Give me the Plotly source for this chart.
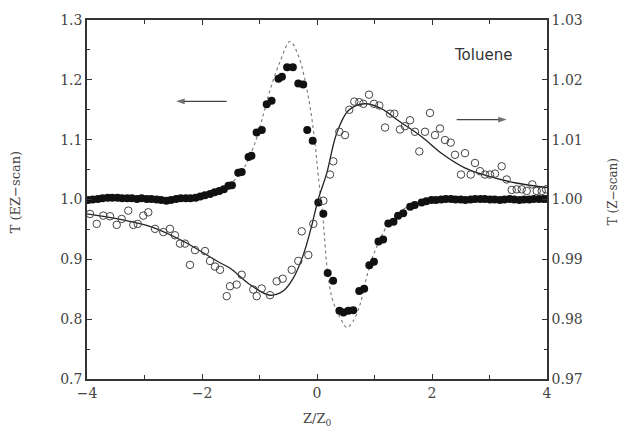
import plotly.graph_objects as go

# ---- EZ-scan (filled circles, left axis) ----
ez_z = [-3.98, -3.90, -3.81, -3.73, -3.64, -3.56, -3.47, -3.39, -3.30, -3.22, -3.13, -3.05,
        -2.96, -2.88, -2.79, -2.71, -2.62, -2.54, -2.45, -2.37, -2.28, -2.20, -2.11, -2.03,
        -1.95, -1.86, -1.78, -1.70, -1.62, -1.54, -1.48, -1.37, -1.31, -1.19, -1.14, -1.05,
        -0.96, -0.875, -0.79, -0.67, -0.61, -0.52, -0.42, -0.325, -0.24, -0.17, -0.075,
        0.023, 0.11, 0.186, 0.28, 0.39, 0.46, 0.545, 0.63, 0.735, 0.82, 0.91, 0.99, 1.07,
        1.15, 1.24, 1.33, 1.41, 1.50, 1.62, 1.70, 1.82, 1.90, 1.99, 2.07, 2.16, 2.24, 2.33,
        2.41, 2.50, 2.58, 2.67, 2.75, 2.84, 2.92, 3.01, 3.09, 3.18, 3.26, 3.35, 3.43, 3.52,
        3.60, 3.69, 3.77, 3.86, 3.94, 4.0]
ez_t = [0.999, 1.000, 1.001, 1.002, 1.003, 1.003, 1.003, 1.002, 1.002, 1.002, 1.001, 1.002,
        1.001, 1.001, 1.000, 0.999, 0.998, 0.999, 1.001, 1.002, 1.002, 1.002, 1.003, 1.005,
        1.007, 1.009, 1.012, 1.014, 1.017, 1.023, 1.024, 1.0445, 1.046, 1.071, 1.073, 1.112,
        1.116, 1.159, 1.165, 1.202, 1.205, 1.221, 1.221, 1.194, 1.192, 1.116, 1.098,
        0.995, 0.976, 0.877, 0.864, 0.814, 0.811, 0.814, 0.815, 0.847, 0.851, 0.890, 0.896, 0.930,
        0.933, 0.960, 0.963, 0.973, 0.977, 0.988, 0.991, 0.995, 0.997, 0.999, 0.999, 1.000, 1.001, 1.001,
        1.000, 1.000, 0.999, 1.000, 1.001, 1.001, 1.001, 1.000, 1.000, 0.999, 1.000, 1.001, 1.000, 0.999,
        1.000, 1.000, 1.001, 1.001, 1.001, 1.001]

# ---- EZ-scan fit (dotted curve, left axis) ----
ezfit_z = [-4.0, -3.0, -2.2, -1.8, -1.6, -1.43, -1.25, -1.08, -0.93, -0.82, -0.64, -0.47,
           -0.33, -0.15, -0.035, 0.023, 0.11, 0.17, 0.26, 0.40, 0.52, 0.63, 0.75, 0.86,
           0.98, 1.24, 1.44, 1.73, 2.2, 3.0, 4.0]
ezfit_t = [1.000, 1.002, 1.005, 1.012, 1.020, 1.033, 1.056, 1.094, 1.143, 1.182, 1.231, 1.264,
           1.242, 1.171, 1.094, 1.039, 0.962, 0.891, 0.836, 0.803, 0.786, 0.797, 0.825, 0.869,
           0.907, 0.959, 0.979, 0.995, 0.999, 1.000, 1.000]

# ---- Z-scan (open circles, right axis) ----
z_z = [-3.948, -3.831, -3.717, -3.600, -3.483, -3.397, -3.282, -3.195, -3.118, -3.021, -2.934,
       -2.817, -2.673, -2.557, -2.470, -2.383, -2.296, -2.209, -2.122, -1.948, -1.861, -1.774,
       -1.687, -1.570, -1.513, -1.397, -1.310, -1.108, -1.049, -0.962, -0.817, -0.701, -0.597,
       -0.440, -0.325, -0.266, -0.151, -0.064, 0.110, 0.226, 0.283, 0.388, 0.487, 0.562, 0.649,
       0.736, 0.805, 0.904, 0.991, 1.083, 1.183, 1.270, 1.344, 1.443, 1.530, 1.617, 1.704,
       1.779, 1.878, 1.965, 2.052, 2.139, 2.226, 2.325, 2.400, 2.504, 2.574, 2.673, 2.748,
       2.835, 2.922, 3.009, 3.096, 3.212, 3.299, 3.386, 3.473, 3.560, 3.647, 3.744, 3.821,
       3.908, 3.983]
z_t = [0.99758, 0.99593, 0.99731, 0.99720, 0.99576, 0.99675, 0.99814, 0.99576, 0.99593, 0.99731,
       0.99786, 0.99510, 0.99456, 0.99510, 0.99402, 0.99263, 0.99263, 0.98907, 0.99154, 0.99138,
       0.98973, 0.98879, 0.98825, 0.98385, 0.98550, 0.98578, 0.98742, 0.98495, 0.98385, 0.98512,
       0.98401, 0.98632, 0.98676, 0.98825, 0.98973, 0.99468, 0.99072, 0.99593, 0.99979, 1.00417,
       1.00638, 1.01132, 1.01076, 1.01500, 1.01637, 1.01627, 1.01599, 1.01752, 1.01599, 1.01571,
       1.01203, 1.01434, 1.01434, 1.01170, 1.01225, 1.01324, 1.01132, 1.00803, 1.01132, 1.01446,
       1.01076, 1.01187, 1.00994, 1.00951, 1.00747, 1.00417, 1.00775, 1.00417, 1.00610, 1.00473,
       1.00417, 1.00417, 1.00433, 1.00555, 1.00335, 1.00160, 1.00170, 1.00170, 1.00143, 1.00252,
       1.00143, 1.00143, 1.00170]

# ---- Z-scan fit (solid line, right axis) ----
zfit_z = [-4.0, -3.46, -2.87, -2.30, -1.72, -1.51, -1.17, -0.82, -0.59, -0.41, -0.24, -0.09,
          0.02, 0.17, 0.34, 0.55, 0.83, 1.12, 1.41, 1.82, 2.17, 2.57, 2.98, 3.44, 4.0]
zfit_t = [0.9976, 0.99675, 0.9954, 0.9929, 0.9896, 0.9885, 0.9858, 0.9840, 0.9847, 0.9869,
          0.9907, 0.9957, 1.0000, 1.0044, 1.0110, 1.0149, 1.0160, 1.0152, 1.0132, 1.0105,
          1.0077, 1.0053, 1.0039, 1.0028, 1.0020]

# ---- direction arrows (tail -> head) ----
arrow_left_z = [-1.57, -2.45]
arrow_left_t = [1.164, 1.164]
arrow_right_z = [2.43, 3.30]
arrow_right_t = [1.1335, 1.1335]

x_ticks = [-4, -2, 0, 2, 4]
left_ticks = [0.7, 0.8, 0.9, 1.0, 1.1, 1.2, 1.3]
right_ticks = [0.97, 0.98, 0.99, 1.00, 1.01, 1.02, 1.03]

INK = "#333333"
TICKFONT = dict(family="DejaVu Serif", size=14, color="#444444")

fig = go.Figure()
fig.add_trace(go.Scatter(x=ezfit_z, y=ezfit_t, mode="lines",
                         line=dict(color="#777777", width=1.1, dash="dot", shape="spline"),
                         yaxis="y", showlegend=False))
fig.add_trace(go.Scatter(x=zfit_z, y=zfit_t, mode="lines", line=dict(color="#222222", width=1.3, shape="spline"),
                         yaxis="y2", showlegend=False))
fig.add_trace(go.Scatter(x=z_z, y=z_t, mode="markers", yaxis="y2", showlegend=False,
                         marker=dict(symbol="circle-open", size=7.5, color="#444444", line=dict(width=1))))
fig.add_trace(go.Scatter(x=ez_z, y=ez_t, mode="markers", yaxis="y", showlegend=False,
                         marker=dict(symbol="circle", size=8, color="#111111")))
for az, at in ((arrow_left_z, arrow_left_t), (arrow_right_z, arrow_right_t)):
    fig.add_trace(go.Scatter(x=az, y=at, mode="lines+markers", yaxis="y", showlegend=False,
                             line=dict(color="#444444", width=1.2),
                             marker=dict(symbol=["circle", "arrow"], size=[0, 9], angleref="previous",
                                         color="#333333", line=dict(width=0))))

axis_common = dict(showgrid=False, zeroline=False, showline=True, linecolor=INK, linewidth=1.5,
                   ticks="inside", tickcolor=INK, tickfont=TICKFONT)

fig.update_layout(
    width=625, height=434,
    margin=dict(l=87, r=78, t=15, b=55),
    paper_bgcolor="white", plot_bgcolor="white",
    xaxis=dict(range=[-4, 4], tickvals=x_ticks, ticktext=["\u22124", "\u22122", "0", "2", "4"],
               ticklen=5, mirror="ticks",
               minor=dict(dtick=1, ticklen=4, ticks="inside", tickcolor=INK), **axis_common),
    yaxis=dict(range=[0.7, 1.3], tickvals=left_ticks, ticktext=["0.7", "0.8", "0.9", "1.0", "1.1", "1.2", "1.3"],
               ticklen=5, minor=dict(dtick=0.05, ticklen=3, ticks="inside", tickcolor=INK), **axis_common),
    yaxis2=dict(range=[0.97, 1.03], overlaying="y", side="right", tickvals=right_ticks,
                ticktext=["0.97", "0.98", "0.99", "1.00", "1.01", "1.02", "1.03"],
                ticklen=5, minor=dict(dtick=0.005, ticklen=3, ticks="inside", tickcolor=INK), **axis_common),
)

fig.add_annotation(text="T (EZ\u2212scan)", xref="paper", yref="paper", x=-0.1565, y=0.52, textangle=-90,
                   xanchor="center", yanchor="middle",
                   showarrow=False, font=dict(family="DejaVu Serif", size=13, color="#444444"))
fig.add_annotation(text="T (Z\u2212scan)", xref="paper", yref="paper", x=1.1435, y=0.52, textangle=-90,
                   xanchor="center", yanchor="middle",
                   showarrow=False, font=dict(family="DejaVu Serif", size=12, color="#444444"))
fig.add_annotation(text="Z/Z<sub>0</sub>", xref="paper", yref="paper", x=0.5, y=-0.113,
                   xanchor="center", yanchor="middle",
                   showarrow=False, font=dict(family="DejaVu Serif", size=13, color="#444444"))
fig.add_annotation(text="Toluene", xref="x", yref="y", x=2.88, y=1.242, showarrow=False,
                   xanchor="center", yanchor="middle",
                   font=dict(family="DejaVu Sans", size=15, color="#333333"))

fig.write_html("out.html")
